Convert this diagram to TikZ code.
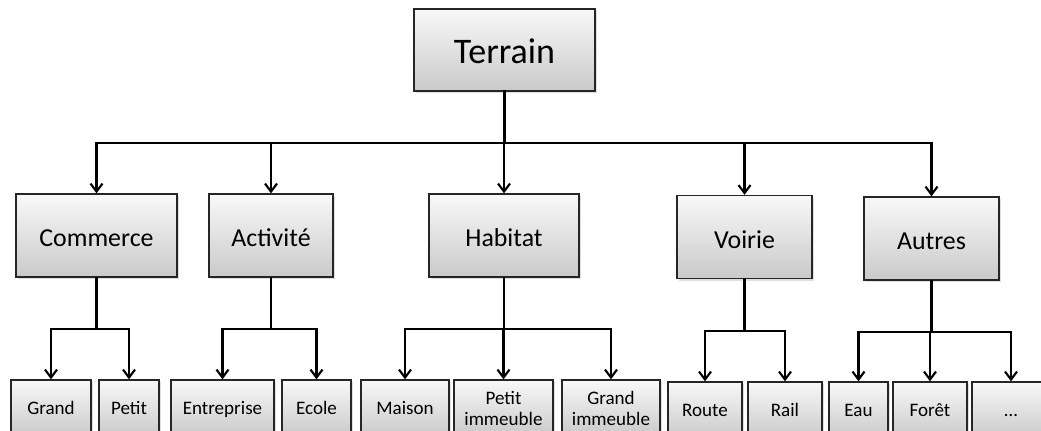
\documentclass[tikz,border=0pt]{standalone}
\usepackage{fontspec}
\setmainfont{Carlito}
\usetikzlibrary{arrows.meta,shadows}
\tikzset{
  boite/.style={draw=black!85, line width=1pt, top color=gray!5, bottom color=gray!42, drop shadow={opacity=0.25, shadow xshift=1.5pt, shadow yshift=-1.5pt}, inner sep=0pt},
  racine/.style={boite, text height=20pt, text depth=0.5pt, font=\fontsize{27}{32}\selectfont},
  famille/.style={boite, minimum height=62.25pt, text height=17.5pt, text depth=0.3pt, font=\fontsize{19.4}{23}\selectfont},
  feuille/.style={boite, minimum height=42pt, text height=10pt, text depth=0.6pt, font=\fontsize{14.3}{15.75}\selectfont},
  double/.style={text height={}, text depth={}, align=center},
  tronc/.style={line width=2.1pt, line cap=rect},
  lien/.style={line width=1.7pt, line cap=rect},
  fleche/.style={line width=1.6pt, -{Straight Barb[length=6pt,width=9pt]}}
}
\begin{document}
\begin{tikzpicture}[x=0.75pt, y=-0.75pt]
\useasboundingbox (0,0) rectangle (1041,430);
\clip (0,0) rectangle (1041,430);
% racine
\node[racine, minimum width=135.75pt, minimum height=61.5pt] (terrain) at (504.5,50) {Terrain};
% familles
\node[famille, minimum width=120.75pt] (commerce) at (96.5,235.5) {Commerce};
\node[famille, minimum width=93pt] (activite) at (271,235.5) {Activité};
\node[famille, minimum width=112.5pt] (habitat) at (504,235.5) {Habitat};
\node[famille, minimum width=101.25pt] (voirie) at (744.5,237) {Voirie};
\node[famille, minimum width=101.25pt] (autres) at (931.5,238.5) {Autres};
% feuilles
\node[feuille, minimum width=60pt] (grand) at (51,408) {Grand};
\node[feuille, minimum width=45pt] (petit) at (129,408) {Petit};
\node[feuille, minimum width=77.25pt] (entreprise) at (222.5,408) {Entreprise};
\node[feuille, minimum width=51.75pt] (ecole) at (316.5,408) {Ecole};
\node[feuille, minimum width=66pt] (maison) at (405,408) {Maison};
\node[feuille, double, minimum width=74.25pt] (petitimm) at (503.5,408) {Petit\\immeuble};
\node[feuille, double, minimum width=73.5pt] (grandimm) at (611,408) {Grand\\immeuble};
\node[feuille, minimum width=55.5pt] (route) at (705,410) {Route};
\node[feuille, minimum width=55.5pt] (rail) at (785,410) {Rail};
\node[feuille, minimum width=44.25pt] (eau) at (858.5,410) {Eau};
\node[feuille, minimum width=55.5pt] (foret) at (930,410) {Forêt};
\node[feuille, minimum width=58.5pt] (autre) at (1011,410) {…};
% liens du premier niveau
\coordinate (busT) at (504.5,143);
\draw[tronc] (terrain.south) -- (busT);
\draw[tronc] (busT -| commerce) -- (busT -| autres);
\foreach \n in {commerce,activite,habitat,voirie,autres} \draw[fleche] (busT -| \n) -- (\n.north);
% liens du second niveau
\draw[lien] (commerce.south) -- ++(0,51) coordinate (busC);\draw[lien] (busC -| grand) -- (busC -| petit);
\foreach \f in {grand,petit} \draw[fleche] (busC -| \f) -- (\f.north);
\draw[lien] (activite.south) -- ++(0,51) coordinate (busA);\draw[lien] (busA -| entreprise) -- (busA -| ecole);
\foreach \f in {entreprise,ecole} \draw[fleche] (busA -| \f) -- (\f.north);
\draw[lien] (habitat.south) -- ++(0,51) coordinate (busH);\draw[lien] (busH -| maison) -- (busH -| grandimm);
\foreach \f in {maison,petitimm,grandimm} \draw[fleche] (busH -| \f) -- (\f.north);
\draw[lien] (voirie.south) -- ++(0,52) coordinate (busV);\draw[lien] (busV -| route) -- (busV -| rail);
\foreach \f in {route,rail} \draw[fleche] (busV -| \f) -- (\f.north);
\draw[lien] (autres.south) -- ++(0,51) coordinate (busX);\draw[lien] (busX -| eau) -- (busX -| autre);
\foreach \f in {eau,foret,autre} \draw[fleche] (busX -| \f) -- (\f.north);
\end{tikzpicture}
\end{document}
